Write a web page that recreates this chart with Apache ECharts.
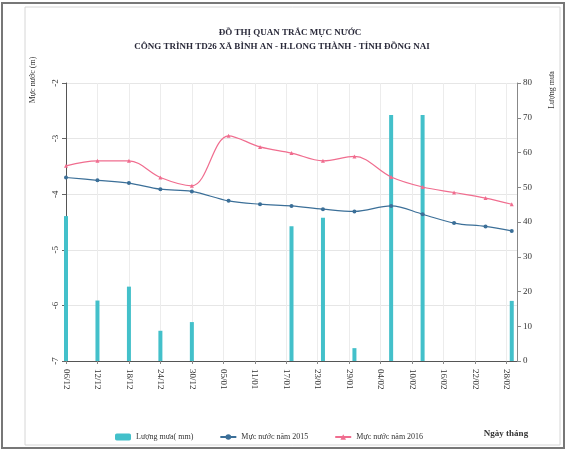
<!DOCTYPE html>
<html>
<head>
<meta charset="utf-8">
<script src="https://cdn.jsdelivr.net/npm/echarts@6/dist/echarts.min.js"></script>
<style>
  html, body { margin: 0; padding: 0; background: #fff; }
  #chart { width: 568px; height: 452px; }
</style>
</head>
<body>
<div id="chart"></div>
<script>
// days counted from 06/12
const tickLabels = ["06/12", "12/12", "18/12", "24/12", "30/12", "05/01", "11/01", "17/01",
  "23/01", "29/01", "04/02", "10/02", "16/02", "22/02", "28/02"];
const days = [0, 6, 12, 18, 24, 31, 37, 43, 49, 55, 62, 68, 74, 80, 85];
const level2015 = [-3.70, -3.75, -3.80, -3.91, -3.95, -4.12, -4.18, -4.21, -4.27, -4.31, -4.21, -4.36, -4.52, -4.58, -4.66];
const level2016 = [-3.49, -3.40, -3.40, -3.70, -3.85, -2.95, -3.15, -3.26, -3.40, -3.32, -3.69, -3.87, -3.97, -4.07, -4.18];
const rain = [41.7, 17.4, 21.4, 8.7, 11.2, null, null, 38.8, 41.2, 3.7, 70.8, 70.8, null, null, 17.3];

const pair = arr => days.map((d, i) => [d, arr[i]]);
const serif = "Liberation Serif";
const txt = "#333";

const chart = echarts.init(document.getElementById("chart"));
chart.setOption({
  animation: false,
  textStyle: { fontFamily: serif },
  graphic: [
    { type: "rect", shape: { x: 2, y: 3, width: 562, height: 445 }, style: { fill: "none", stroke: "#777", lineWidth: 2 } },
    { type: "rect", shape: { x: 25, y: 7, width: 535, height: 438 }, style: { fill: "none", stroke: "#d6d6d6", lineWidth: 1 } },
    { type: "text", x: 290, y: 33, style: { text: "ĐỒ THỊ QUAN TRẮC MỰC NƯỚC", font: "bold 9px " + serif, fill: "#2a2a3a", align: "center", verticalAlign: "middle" } },
    { type: "text", x: 282, y: 47, style: { text: "CÔNG TRÌNH TD26 XÃ BÌNH AN - H.LONG THÀNH - TỈNH ĐỒNG NAI", font: "bold 9px " + serif, fill: "#2a2a3a", align: "center", verticalAlign: "middle" } },
    { type: "text", x: 33, y: 80, rotation: Math.PI / 2, style: { text: "Mực nước (m)", font: "8px " + serif, fill: txt, align: "center", verticalAlign: "middle" } },
    { type: "text", x: 552, y: 90, rotation: Math.PI / 2, style: { text: "Lượng mưa", font: "8px " + serif, fill: txt, align: "center", verticalAlign: "middle" } },
    { type: "text", x: 506, y: 434, style: { text: "Ngày tháng", font: "bold 9px " + serif, fill: txt, align: "center", verticalAlign: "middle" } }
  ],
  legend: {
    left: 110, top: 428,
    itemWidth: 16, itemHeight: 7, itemGap: 26,
    textStyle: { fontFamily: serif, fontSize: 8, color: txt },
    data: ["Lượng mưa( mm)", "Mực nước năm 2015", "Mực nước năm 2016"]
  },
  grid: { left: 66, right: 51, top: 83, bottom: 91 },
  xAxis: {
    type: "value", min: 0, max: 86, interval: 6,
    axisLine: { lineStyle: { color: "#555" } },
    axisTick: { show: true, length: 3, lineStyle: { color: "#888" } },
    axisLabel: {
      rotate: -90, margin: 8, fontSize: 9, color: txt, showMaxLabel: false,
      formatter: v => tickLabels[v / 6] || ""
    },
    splitLine: { show: true, lineStyle: { color: "#ececec" } }
  },
  yAxis: [
    {
      type: "value", min: -7, max: -2, interval: 1,
      axisLine: { show: true, lineStyle: { color: "#555" } },
      axisTick: { show: true, length: 4, lineStyle: { color: "#666" } },
      axisLabel: { rotate: 90, margin: 6, fontSize: 9, color: txt },
      splitLine: { show: true, lineStyle: { color: "#e6e6e6" } }
    },
    {
      type: "value", min: 0, max: 80, interval: 10,
      axisLine: { show: true, lineStyle: { color: "#888" } },
      axisTick: { show: true, length: 4, lineStyle: { color: "#888" } },
      axisLabel: { margin: 6, fontSize: 9, color: txt },
      splitLine: { show: false }
    }
  ],
  series: [
    {
      name: "Lượng mưa( mm)", type: "bar", yAxisIndex: 1, barWidth: 4, z: 1,
      itemStyle: { color: "#43c0ca" },
      data: pair(rain)
    },
    {
      name: "Mực nước năm 2015", type: "line", smooth: 0.35, z: 3,
      symbol: "circle", symbolSize: 4,
      lineStyle: { color: "#3b6f98", width: 1.2 },
      itemStyle: { color: "#3b6f98" },
      data: pair(level2015)
    },
    {
      name: "Mực nước năm 2016", type: "line", smooth: 0.35, z: 3,
      symbol: "triangle", symbolSize: 4,
      lineStyle: { color: "#f06d8f", width: 1.2 },
      itemStyle: { color: "#f06d8f" },
      data: pair(level2016)
    }
  ]
});
</script>
</body>
</html>
